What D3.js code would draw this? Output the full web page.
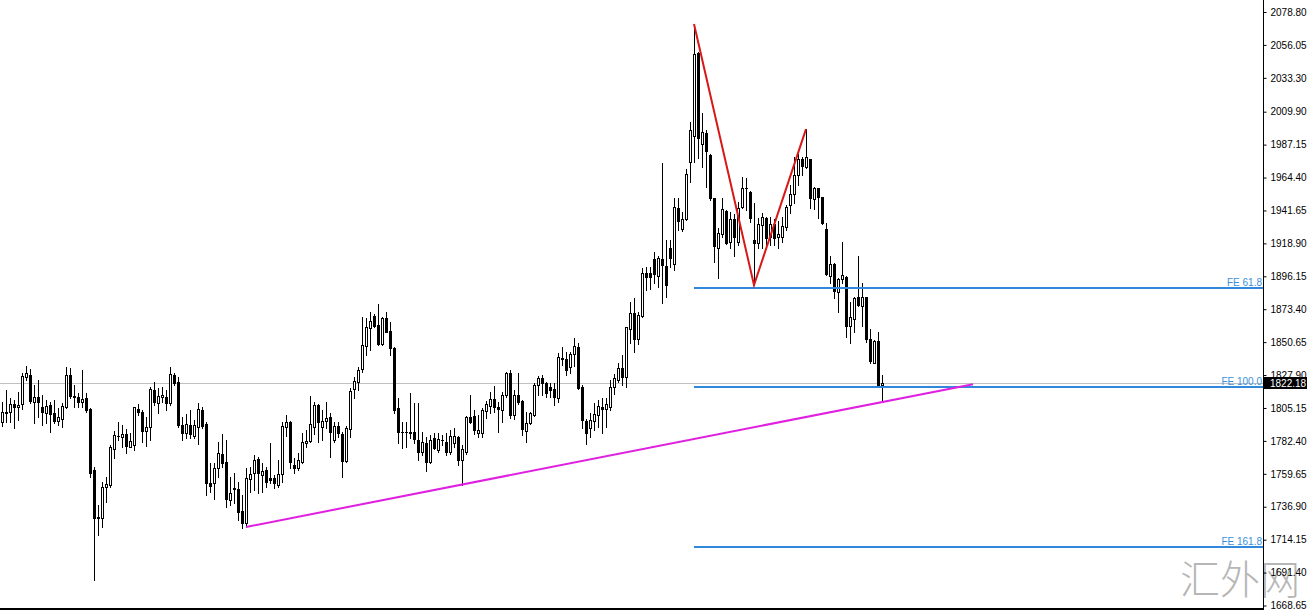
<!DOCTYPE html>
<html>
<head>
<meta charset="utf-8">
<script src="https://cdn.jsdelivr.net/npm/d3@7"></script>
<style>
  html, body { margin: 0; padding: 0; background: #fff; }
  svg { display: block; }
  .axis text { font-family: "Liberation Sans", Arial, sans-serif; font-size: 10px; fill: #000; }
  .fe-label { font-family: "Liberation Sans", Arial, sans-serif; font-size: 10px; }
</style>
</head>
<body>
<div id="chart"></div>
<script>
// daily bars, [open, high, low, close]
const candles = [
  [1795.7,1809.5,1792.7,1802.6],[1802.3,1817.6,1795.7,1802.0],[1802.1,1811.8,1795.7,1807.9],[1807.9,1810.7,1791.1,1805.6],[1805.6,1816.4,1796.8,1807.2],
  [1807.9,1829.1,1804.2,1827.2],[1826.3,1834.1,1824.5,1829.1],[1827.9,1831.8,1808.4,1810.2],[1809.5,1821.0,1794.6,1812.5],[1812.5,1824.5,1799.1,1809.5],
  [1806.0,1814.1,1793.4,1802.6],[1801.9,1810.7,1794.6,1806.5],[1807.2,1809.5,1788.7,1800.8],[1801.9,1810.7,1794.6,1796.1],[1796.4,1804.9,1793.4,1798.7],
  [1797.3,1808.4,1792.2,1806.5],[1806.0,1833.2,1804.9,1827.9],[1827.9,1832.5,1811.8,1813.4],[1813.4,1821.0,1806.0,1812.9],[1812.5,1815.3,1806.0,1809.5],
  [1809.5,1831.4,1806.0,1811.1],[1811.8,1815.3,1802.6,1803.7],[1804.4,1805.0,1757.6,1760.0],[1762.3,1764.6,1686.3,1728.9],[1728.9,1738.1,1717.4,1729.6],
  [1728.9,1754.2,1723.1,1750.7],[1750.3,1757.6,1740.4,1752.6],[1751.9,1779.6,1750.7,1778.0],[1776.6,1789.4,1770.4,1786.5],[1785.6,1795.7,1783.0,1786.0],
  [1785.3,1793.4,1778.4,1787.2],[1787.2,1790.4,1773.8,1778.9],[1778.4,1787.6,1778.0,1782.5],[1779.4,1806.0,1776.1,1805.6],[1804.4,1807.9,1800.3,1802.6],
  [1802.6,1803.7,1781.8,1789.4],[1789.4,1799.1,1778.9,1792.2],[1791.8,1819.8,1783.0,1818.3],[1817.6,1823.3,1807.2,1809.5],[1808.8,1818.7,1801.4,1813.4],
  [1812.9,1819.8,1809.5,1813.9],[1812.9,1817.6,1803.7,1808.8],[1808.4,1833.2,1807.2,1828.6],[1827.9,1829.5,1821.0,1822.6],[1823.3,1826.8,1792.2,1793.4],
  [1793.4,1799.1,1783.0,1788.0],[1788.0,1801.0,1784.2,1793.9],[1793.4,1803.7,1784.2,1787.2],[1785.8,1796.8,1784.2,1793.4],[1792.2,1808.4,1780.2,1804.4],
  [1803.7,1806.0,1791.1,1792.7],[1794.1,1795.7,1745.0,1753.1],[1753.5,1766.9,1747.3,1751.4],[1753.1,1766.9,1742.0,1763.5],[1763.9,1781.8,1757.6,1774.2],
  [1773.3,1787.2,1764.6,1767.3],[1768.0,1783.0,1736.9,1742.0],[1741.5,1757.6,1738.1,1746.2],[1749.4,1760.0,1739.3,1749.8],[1748.9,1754.2,1727.7,1733.5],
  [1734.1,1745.0,1722.0,1725.9],[1725.9,1763.4,1722.9,1756.5],[1755.8,1764.6,1747.3,1759.5],[1760.4,1772.6,1748.5,1769.2],[1769.7,1771.5,1746.2,1760.4],
  [1758.8,1766.9,1747.3,1761.8],[1762.3,1764.6,1750.7,1754.2],[1756.5,1780.7,1753.1,1755.4],[1756.5,1758.8,1749.6,1753.5],[1751.9,1769.2,1750.7,1759.5],
  [1759.5,1795.7,1754.2,1792.7],[1791.8,1800.3,1785.8,1795.2],[1795.2,1795.9,1763.4,1768.0],[1765.7,1770.4,1760.0,1763.9],[1763.4,1773.8,1762.3,1769.2],
  [1768.0,1787.6,1767.3,1781.4],[1780.7,1789.9,1778.4,1782.3],[1782.3,1813.4,1781.8,1794.1],[1791.8,1809.5,1787.2,1807.2],[1807.2,1807.9,1781.8,1795.7],
  [1792.2,1803.7,1783.0,1796.4],[1796.4,1809.5,1791.1,1798.0],[1799.1,1801.4,1771.5,1788.7],[1783.0,1795.7,1781.8,1792.7],[1792.7,1795.7,1785.3,1788.0],
  [1787.0,1788.7,1757.6,1768.7],[1768.5,1792.7,1768.0,1791.1],[1790.6,1818.7,1785.3,1817.1],[1818.0,1826.8,1811.8,1823.8],[1823.3,1833.7,1817.6,1831.4],
  [1832.1,1868.2,1830.2,1848.7],[1848.2,1867.1,1841.8,1861.3],[1860.6,1871.7,1845.2,1865.2],[1868.9,1869.9,1861.3,1862.0],[1862.5,1876.8,1848.7,1849.2],
  [1849.2,1868.2,1848.7,1867.5],[1867.1,1871.7,1857.4,1857.8],[1858.3,1864.8,1841.8,1846.8],[1846.8,1847.5,1801.4,1803.7],[1805.3,1811.8,1780.7,1788.3],
  [1788.7,1795.7,1777.3,1788.3],[1788.3,1795.2,1778.4,1788.5],[1788.4,1815.3,1784.2,1788.2],[1788.7,1808.4,1780.7,1783.7],[1783.0,1808.4,1769.2,1774.5],
  [1774.5,1788.7,1772.6,1781.8],[1780.7,1785.3,1761.6,1767.6],[1768.0,1786.5,1766.9,1783.0],[1784.2,1787.6,1776.8,1777.7],[1776.1,1787.6,1774.9,1783.5],
  [1783.2,1786.5,1779.6,1782.8],[1781.8,1787.6,1772.6,1774.5],[1774.9,1789.9,1773.3,1785.8],[1780.7,1791.1,1778.4,1785.8],[1785.3,1786.0,1765.7,1769.2],
  [1769.2,1779.6,1752.0,1776.6],[1774.9,1799.6,1773.3,1798.7],[1798.7,1814.1,1795.0,1795.7],[1799.6,1803.7,1787.2,1789.9],[1788.0,1800.3,1785.3,1789.9],
  [1788.0,1804.9,1784.9,1803.7],[1803.3,1810.2,1798.0,1807.9],[1806.5,1816.4,1801.9,1811.1],[1811.1,1820.3,1802.6,1805.6],[1806.0,1809.5,1788.7,1804.2],
  [1803.7,1816.4,1795.7,1814.1],[1814.1,1830.2,1812.9,1829.1],[1829.1,1831.4,1798.0,1800.3],[1800.3,1817.6,1797.3,1814.1],[1814.1,1829.1,1807.9,1809.5],
  [1810.2,1810.7,1786.5,1790.4],[1789.4,1802.6,1781.8,1795.0],[1794.6,1802.6,1794.1,1801.9],[1800.3,1822.2,1799.6,1821.0],[1821.0,1827.2,1814.1,1825.6],
  [1825.6,1827.9,1814.1,1822.2],[1822.6,1823.3,1812.9,1815.7],[1819.4,1822.2,1812.9,1817.6],[1818.0,1822.2,1807.2,1812.9],[1811.8,1842.9,1809.5,1840.2],
  [1839.5,1847.5,1834.8,1838.8],[1838.8,1844.0,1827.9,1831.4],[1833.7,1844.0,1829.5,1842.4],[1842.4,1853.3,1834.1,1848.0],[1847.1,1850.3,1818.0,1818.7],
  [1819.4,1821.0,1791.1,1796.8],[1796.4,1797.3,1780.2,1788.0],[1791.1,1801.4,1785.3,1796.8],[1796.4,1808.4,1789.9,1801.0],[1800.3,1810.7,1792.2,1806.5],
  [1806.0,1811.8,1788.0,1804.2],[1804.2,1811.8,1791.8,1807.9],[1806.0,1824.5,1803.7,1819.8],[1819.8,1828.6,1814.8,1825.6],[1824.5,1836.0,1823.3,1832.5],
  [1832.5,1841.8,1821.0,1826.3],[1826.3,1861.3,1819.8,1860.9],[1859.5,1878.6,1850.3,1870.6],[1870.6,1880.9,1844.0,1852.6],[1852.6,1871.7,1849.4,1869.4],
  [1868.9,1901.7,1868.2,1898.2],[1898.2,1902.8,1886.7,1895.9],[1898.6,1902.4,1887.2,1895.4],[1907.9,1913.1,1891.3,1897.7],[1896.3,1910.2,1889.0,1908.6],
  [1907.9,1974.2,1877.5,1904.0],[1903.3,1921.2,1882.0,1890.1],[1915.5,1921.2,1902.8,1908.6],[1904.4,1950.5,1900.5,1944.2],[1943.5,1950.5,1928.1,1934.4],
  [1928.8,1940.8,1927.4,1935.7],[1935.7,1970.3,1935.0,1966.6],[1974.9,2002.6,1961.5,1997.2],[1993.3,2070.3,1975.3,2049.6],[2050.3,2051.4,1977.7,1991.5],
  [1987.4,2008.8,1971.9,1996.1],[1995.0,1997.2,1958.1,1982.7],[1980.0,1980.4,1948.9,1950.0],[1950.0,1950.5,1906.2,1917.3],[1915.5,1929.3,1894.8,1925.9],
  [1925.2,1950.0,1923.5,1942.7],[1941.3,1942.0,1918.3,1918.9],[1919.6,1940.4,1915.9,1935.7],[1935.7,1939.0,1910.4,1923.5],[1920.1,1947.7,1917.8,1943.5],
  [1944.2,1964.9,1943.5,1956.9],[1957.4,1963.9,1941.9,1957.2],[1954.2,1955.1,1933.9,1936.2],[1921.2,1946.6,1890.1,1918.9],[1918.9,1936.2,1915.5,1932.1],
  [1931.6,1939.7,1915.5,1937.3],[1936.2,1937.3,1917.8,1922.8],[1923.5,1937.3,1917.8,1932.1],[1932.1,1935.7,1917.8,1922.8],[1923.5,1934.2,1915.5,1925.2],
  [1923.1,1937.3,1920.1,1930.9],[1930.0,1945.4,1928.1,1943.8],[1945.4,1959.2,1939.7,1953.0],[1953.0,1978.4,1946.6,1966.1],[1966.1,1981.0,1959.2,1976.9],
  [1976.9,1978.4,1966.1,1972.4],[1971.9,1997.9,1970.8,1978.4],[1976.9,1977.5,1943.1,1950.0],[1949.3,1958.0,1942.5,1956.9],[1956.9,1957.5,1936.2,1950.7],
  [1950.7,1951.2,1932.3,1932.8],[1928.6,1933.2,1897.0,1897.7],[1896.3,1910.2,1891.3,1904.6],[1904.6,1905.1,1881.0,1886.2],[1885.5,1894.7,1871.7,1894.0],
  [1894.0,1920.1,1891.3,1897.0],[1895.9,1896.3,1854.4,1861.8],[1861.8,1878.6,1849.8,1867.8],[1866.4,1882.0,1857.8,1880.9],[1882.0,1910.2,1875.6,1876.3],
  [1875.6,1891.7,1861.8,1881.6],[1881.6,1882.0,1850.9,1852.6],[1852.6,1859.5,1836.0,1837.8],[1836.4,1852.1,1836.0,1851.6],[1851.6,1857.8,1819.8,1821.0],
  [1821.0,1827.9,1810.2,1822.18]
];

const yTicks = [2078.80, 2056.05, 2033.30, 2009.90, 1987.15, 1964.40, 1941.65, 1918.90, 1896.15,
  1873.40, 1850.65, 1827.90, 1805.15, 1782.40, 1759.65, 1736.90, 1714.15, 1691.40, 1668.65];

const lastPrice = 1822.18;

// fibo expansion levels drawn from the first zigzag point to the price scale
const feLevels = [
  { label: "FE 61.8", price: 1887.8 },
  { label: "FE 100.0", price: 1819.4 },
  { label: "FE 161.8", price: 1708.9 }
];
const feStart = 173;

// [bar index, price]
const zigzag = [[173, 2070.5], [188, 1890.1], [201, 1997.9]];
const trendLine = [[61, 1722.9], [242.75, 1821.6]];

const width = 1310, height = 612,
  axisX = 1263,
  plotBottom = 608;

const x = d3.scaleLinear().domain([0, candles.length - 1]).range([2, 882]);
const y = d3.scaleLinear().domain([1668.65, 2078.80]).range([605.5, 12]);
const px = v => Math.round(v) + 0.5;

const svg = d3.select("#chart").append("svg")
  .attr("width", width)
  .attr("height", height);

svg.append("rect").attr("width", width).attr("height", height).attr("fill", "#fff");

// bid line
svg.append("line")
  .attr("x1", 0).attr("x2", axisX)
  .attr("y1", px(y(lastPrice))).attr("y2", px(y(lastPrice)))
  .attr("stroke", "#c0c0c0").attr("stroke-width", 1);

// candles
svg.append("g").attr("class", "candles")
  .selectAll("g")
  .data(candles)
  .enter().append("g")
  .each(function (d, i) {
    const g = d3.select(this);
    const cx = Math.round(x(i));
    const [o, h, l, c] = d;
    g.append("line")
      .attr("x1", cx + 0.5).attr("x2", cx + 0.5)
      .attr("y1", Math.round(y(h))).attr("y2", Math.round(y(l)) + 1)
      .attr("stroke", "#000").attr("stroke-width", 1);
    const top = Math.round(y(Math.max(o, c))), bot = Math.round(y(Math.min(o, c)));
    if (bot - top < 1) {
      g.append("rect").attr("x", cx - 1).attr("y", top).attr("width", 3).attr("height", 1).attr("fill", "#000");
    } else if (c >= o) {
      g.append("rect")
        .attr("x", cx - 0.5).attr("y", top + 0.5)
        .attr("width", 2).attr("height", bot - top)
        .attr("fill", "#fff").attr("stroke", "#000").attr("stroke-width", 1);
    } else {
      g.append("rect")
        .attr("x", cx - 1).attr("y", top)
        .attr("width", 3).attr("height", bot - top + 1)
        .attr("fill", "#000");
    }
  });

// fibo expansion
const fe = svg.append("g").attr("class", "fibo");
fe.selectAll("line")
  .data(feLevels)
  .enter().append("line")
  .attr("x1", x(feStart)).attr("x2", axisX)
  .attr("y1", d => Math.round(y(d.price))).attr("y2", d => Math.round(y(d.price)))
  .attr("stroke", "#2f88dc").attr("stroke-width", 2);
fe.selectAll("text")
  .data(feLevels)
  .enter().append("text")
  .attr("class", "fe-label")
  .attr("x", axisX - 1)
  .attr("y", d => Math.round(y(d.price)) - 2)
  .attr("text-anchor", "end")
  .attr("fill", "#3a90dc")
  .text(d => d.label);

const line = d3.line().x(d => x(d[0])).y(d => y(d[1]));

svg.append("path")
  .datum(zigzag)
  .attr("d", line)
  .attr("fill", "none")
  .attr("stroke", "#d81818")
  .attr("stroke-width", 2);

svg.append("path")
  .datum(trendLine)
  .attr("d", line)
  .attr("fill", "none")
  .attr("stroke", "#e020e0")
  .attr("stroke-width", 2);

// watermark sits behind the price scale text
svg.append("text")
  .attr("x", 1180).attr("y", 594)
  .attr("font-family", "'Noto Sans CJK SC', sans-serif")
  .attr("font-weight", 300)
  .attr("font-size", 40)
  .attr("fill", "#b6b6b6")
  .text("汇外网");

// frame: right price scale + bottom edge
svg.append("line")
  .attr("x1", axisX + 0.5).attr("x2", axisX + 0.5)
  .attr("y1", 0).attr("y2", plotBottom + 2)
  .attr("stroke", "#000");
svg.append("line")
  .attr("x1", 0).attr("x2", axisX + 1)
  .attr("y1", plotBottom + 1).attr("y2", plotBottom + 1)
  .attr("stroke", "#000").attr("stroke-width", 2);

const axis = svg.append("g")
  .attr("class", "axis")
  .attr("transform", `translate(${axisX + 0.5},0)`)
  .call(d3.axisRight(y).tickValues(yTicks).tickFormat(d3.format(".2f")).tickSize(3).tickSizeOuter(0).tickPadding(4));
axis.select(".domain").remove();
axis.selectAll(".tick line").attr("stroke", "#000");

// last price marker
const ly = y(lastPrice);
svg.append("rect")
  .attr("x", axisX + 1).attr("y", Math.round(ly) - 6)
  .attr("width", 43).attr("height", 12)
  .attr("fill", "#000");
svg.append("text")
  .attr("x", axisX + 7).attr("y", ly)
  .attr("dy", "0.34em")
  .attr("font-family", "'Liberation Sans', Arial, sans-serif")
  .attr("font-size", 10)
  .attr("fill", "#fff")
  .text(d3.format(".2f")(lastPrice));
</script>
</body>
</html>
